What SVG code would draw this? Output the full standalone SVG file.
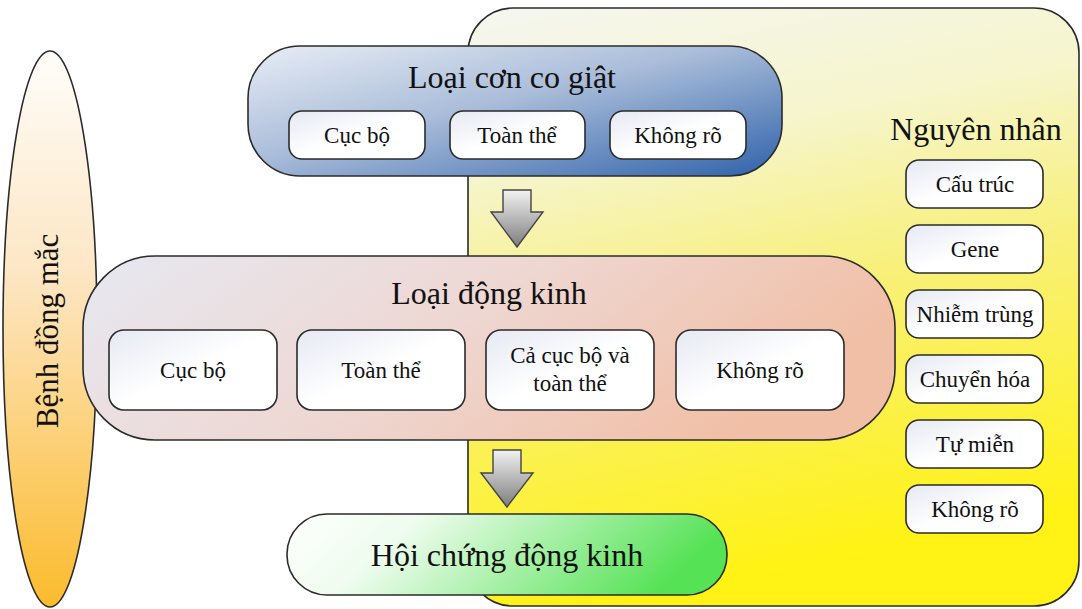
<svg xmlns="http://www.w3.org/2000/svg" width="1082" height="609" viewBox="0 0 1082 609">
<defs>
<linearGradient id="gYellow" x1="0" y1="0" x2="0.2" y2="1">
<stop offset="0" stop-color="#f5f6f1"/>
<stop offset="0.28" stop-color="#f6f5cc"/>
<stop offset="0.55" stop-color="#f8f07a"/>
<stop offset="1" stop-color="#fff214"/>
</linearGradient>
<linearGradient id="gBlue" x1="0" y1="0" x2="1" y2="1">
<stop offset="0" stop-color="#e8edf5"/>
<stop offset="0.45" stop-color="#a9bcd9"/>
<stop offset="1" stop-color="#2f62aa"/>
</linearGradient>
<linearGradient id="gPeach" x1="0" y1="0" x2="1" y2="0.3">
<stop offset="0" stop-color="#e6e8f1"/>
<stop offset="0.5" stop-color="#eed8d4"/>
<stop offset="1" stop-color="#f1bfa6"/>
</linearGradient>
<linearGradient id="gGreen" x1="0" y1="0" x2="1" y2="0.2">
<stop offset="0" stop-color="#ffffff"/>
<stop offset="0.3" stop-color="#eefcee"/>
<stop offset="1" stop-color="#55e255"/>
</linearGradient>
<linearGradient id="gOrange" x1="0" y1="0" x2="0" y2="1">
<stop offset="0" stop-color="#fffdfa"/>
<stop offset="0.4" stop-color="#fde6c4"/>
<stop offset="1" stop-color="#fbbb2c"/>
</linearGradient>
<linearGradient id="gBox" x1="0" y1="0" x2="1" y2="1">
<stop offset="0" stop-color="#e6e9f3"/>
<stop offset="0.5" stop-color="#ffffff"/>
<stop offset="1" stop-color="#ffffff"/>
</linearGradient>
<linearGradient id="gArrow" x1="0" y1="0" x2="0" y2="1">
<stop offset="0" stop-color="#f2f2f2"/>
<stop offset="1" stop-color="#7d7d7d"/>
</linearGradient>
<style>
.pill{stroke:#2b2b2b;stroke-width:1.6}
.box{fill:url(#gBox);stroke:#2b2b2b;stroke-width:1.6}
text{font-family:'Liberation Serif','DejaVu Serif',serif;fill:#111;text-anchor:middle}
.big{font-size:32px}
.sm{font-size:23px}
.arrow{fill:url(#gArrow);stroke:#444;stroke-width:1.4}
</style>
</defs>
<rect x="0" y="0" width="1082" height="609" fill="#ffffff"/>

<g id="nguyen-nhan">
<rect class="pill" x="468" y="8" width="611" height="598" rx="45" ry="45" fill="url(#gYellow)"/>
<text class="big" x="976" y="140">Nguyên nhân</text>
<g id="nn-cau-truc"><rect class="box" x="906" y="160" width="137" height="48" rx="13"/><text class="sm" x="975" y="192">Cấu trúc</text></g>
<g id="nn-gene"><rect class="box" x="906" y="225" width="137" height="48" rx="13"/><text class="sm" x="975" y="257">Gene</text></g>
<g id="nn-nhiem-trung"><rect class="box" x="906" y="290" width="137" height="48" rx="13"/><text class="sm" x="975" y="322">Nhiễm trùng</text></g>
<g id="nn-chuyen-hoa"><rect class="box" x="906" y="355" width="137" height="48" rx="13"/><text class="sm" x="975" y="387">Chuyển hóa</text></g>
<g id="nn-tu-mien"><rect class="box" x="906" y="420" width="137" height="48" rx="13"/><text class="sm" x="975" y="452">Tự miễn</text></g>
<g id="nn-khong-ro"><rect class="box" x="906" y="485" width="137" height="48" rx="13"/><text class="sm" x="975" y="517">Không rõ</text></g>
</g>

<g id="benh-dong-mac">
<ellipse class="pill" cx="50" cy="329" rx="47" ry="278" fill="url(#gOrange)"/>
<text style="font-size:31px" transform="translate(58,331) rotate(-90)">Bệnh đồng mắc</text>
</g>

<g id="loai-con-co-giat">
<rect class="pill" x="248" y="46" width="534" height="130" rx="52" ry="52" fill="url(#gBlue)"/>
<text class="big" x="512" y="88">Loại cơn co giật</text>
<g id="ccg-cuc-bo"><rect class="box" x="289" y="111" width="136" height="48" rx="13"/><text class="sm" x="357" y="143">Cục bộ</text></g>
<g id="ccg-toan-the"><rect class="box" x="450" y="111" width="135" height="48" rx="13"/><text class="sm" x="517" y="143">Toàn thể</text></g>
<g id="ccg-khong-ro"><rect class="box" x="610" y="111" width="136" height="48" rx="13"/><text class="sm" x="678" y="143">Không rõ</text></g>
</g>

<g id="loai-dong-kinh">
<rect class="pill" x="83" y="256" width="812" height="184" rx="72" ry="72" fill="url(#gPeach)"/>
<text class="big" x="489" y="304">Loại động kinh</text>
<g id="dk-cuc-bo"><rect class="box" x="109" y="330" width="168" height="80" rx="15"/><text class="sm" x="193" y="378">Cục bộ</text></g>
<g id="dk-toan-the"><rect class="box" x="297" y="330" width="168" height="80" rx="15"/><text class="sm" x="381" y="378">Toàn thể</text></g>
<g id="dk-ca-hai"><rect class="box" x="486" y="330" width="168" height="80" rx="15"/><text class="sm" x="570" y="363">Cả cục bộ và</text><text class="sm" x="570" y="391">toàn thể</text></g>
<g id="dk-khong-ro"><rect class="box" x="676" y="330" width="168" height="80" rx="15"/><text class="sm" x="760" y="378">Không rõ</text></g>
</g>

<g id="hoi-chung-dong-kinh">
<rect class="pill" x="287" y="514" width="440" height="81" rx="40" ry="40" fill="url(#gGreen)"/>
<text class="big" x="507" y="566">Hội chứng động kinh</text>
</g>

<g id="connectors">
<polygon class="arrow" points="503,190 531,190 531,212 543,212 517,247 491,212 503,212"/>
<polygon class="arrow" points="493,450 521,450 521,473 533,473 507,507 481,473 493,473"/>
</g>
</svg>
